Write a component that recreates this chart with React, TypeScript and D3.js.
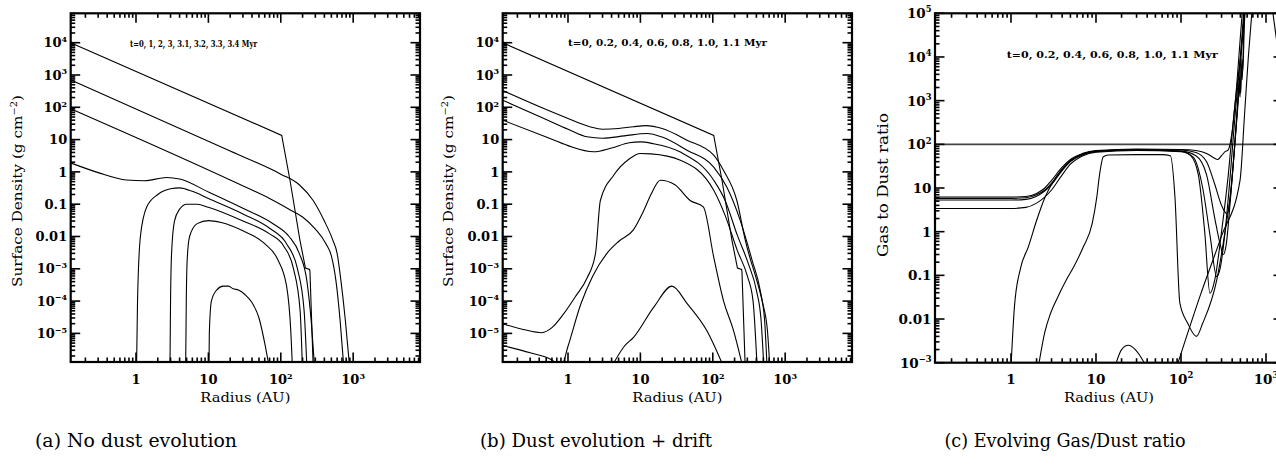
import React from "react";
import * as d3 from "d3";

type Pt = [number, number];

// ---------- tick values / labels ----------
const radiusTicks = [1, 10, 100, 1000];
const radiusTickLabels = ["1", "10", "10^2", "10^3"];
const sigmaTicks = [1e4, 1e3, 1e2, 10, 1, 0.1, 0.01, 1e-3, 1e-4, 1e-5];
const sigmaTickLabels = ["10^4", "10^3", "10^2", "10", "1", "0.1", "0.01", "10^−3", "10^−4", "10^−5"];
const ratioTicks = [1e5, 1e4, 1e3, 1e2, 10, 1, 0.1, 0.01, 1e-3];
const ratioTickLabels = ["10^5", "10^4", "10^3", "10^2", "10", "1", "0.1", "0.01", "10^−3"];

// ---------- panel (a): no dust evolution, t = 0,1,2,3,3.1,3.2,3.3,3.4 Myr ----------
const aT0: Pt[] = [[0.125, 1e4], [103, 13.5], [134, 0.55], [184, 7.6e-3], [219, 1.05e-3], [250, 0.95e-3], [253, 8e-4], [280, 1e-6]];
const aT1: Pt[] = [[0.125, 700], [20, 4.4], [100, 0.85], [180, 0.4], [280, 0.13], [400, 0.03], [520, 8e-3], [600, 3e-3], [680, 4e-4], [780, 2.5e-5], [883, 1.2e-6]];
const aT2: Pt[] = [[0.125, 90], [20, 0.56], [70, 0.15], [130, 0.07], [200, 0.04], [300, 0.017], [420, 6e-3], [500, 2.5e-3], [580, 4e-4], [660, 2.5e-5], [735, 1.2e-6]];
const aT3: Pt[] = [[0.125, 1.9], [0.3, 0.95], [0.74, 0.56], [1.3, 0.53], [2.65, 0.67], [4, 0.6], [10, 0.24], [30, 0.075], [80, 0.024], [130, 0.01], [180, 3e-3], [230, 4e-4], [265, 2e-5], [290, 1.2e-6]];
const aT31: Pt[] = [[1.02, 1.2e-6], [1.05, 1e-4], [1.15, 1e-2], [1.4, 0.08], [2, 0.2], [3, 0.3], [4, 0.32], [6, 0.25], [10, 0.15], [30, 0.05], [70, 0.018], [120, 6e-3], [170, 1e-3], [210, 5e-5], [228, 1.2e-6]];
const aT32: Pt[] = [[2.95, 1.2e-6], [3.0, 1e-4], [3.1, 3e-3], [3.4, 0.03], [4, 0.07], [5, 0.1], [7, 0.1], [10, 0.08], [30, 0.03], [70, 0.012], [110, 5e-3], [150, 1e-3], [185, 5e-5], [198, 1.2e-6]];
const aT33: Pt[] = [[4.86, 1.2e-6], [4.95, 1e-4], [5.1, 2e-3], [5.5, 0.01], [7, 0.025], [10, 0.031], [15, 0.027], [30, 0.015], [60, 6e-3], [90, 2e-3], [120, 3e-4], [138, 1e-5], [144, 1.2e-6]];
const aT34: Pt[] = [[10.2, 1.2e-6], [10.3, 1e-5], [11, 1e-4], [13, 2.2e-4], [16, 2.9e-4], [19, 2.9e-4], [22, 2.4e-4], [26, 2.2e-4], [32, 1.6e-4], [40, 9e-5], [50, 3e-5], [60, 5e-6], [67.6, 1.2e-6]];

// ---------- panel (b): dust evolution + drift, t = 0,0.2,...,1.1 Myr ----------
const bT02: Pt[] = [[0.125, 330], [0.5, 85], [1, 45], [2, 25], [3, 21], [5, 22], [8, 25], [12, 27], [20, 22], [44, 9.6], [103, 3.3], [141, 1.1], [215, 0.13], [282, 7.5e-3], [330, 2e-3], [389, 6e-4], [481, 1e-4], [569, 1.2e-5], [609, 1.2e-6]];
const bT04: Pt[] = [[0.125, 166], [0.5, 42], [1, 21], [1.83, 12.2], [3, 11], [6, 13], [12.3, 15.5], [20, 12], [44, 4.7], [103, 1.4], [156, 0.34], [240, 0.031], [350, 1.8e-3], [455, 2e-4], [520, 2.5e-5], [559, 1.2e-6]];
const bT06: Pt[] = [[0.125, 40], [0.5, 12], [1, 6.5], [2.26, 4.2], [4, 5.5], [7, 8], [10, 8.5], [15, 7.5], [35.7, 4.1], [103, 0.55], [148, 0.13], [218, 0.011], [315, 1.3e-3], [400, 2.2e-4], [465, 2.5e-5], [504, 1.2e-6]];
const bT08: Pt[] = [[0.125, 2e-5], [0.25, 1.3e-5], [0.435, 1.05e-5], [0.6, 1.5e-5], [0.87, 4e-5], [1.3, 1.5e-4], [1.82, 5e-4], [2.4, 3e-3], [2.8, 0.13], [4.3, 0.8], [7, 2.5], [10, 3.7], [14, 3.6], [35.7, 2.3], [103, 0.27], [148, 0.045], [218, 3.7e-3], [300, 6e-4], [360, 1e-4], [407, 1.2e-6]];
const bT10: Pt[] = [[0.125, 4.2e-6], [0.3, 2.5e-6], [0.6, 1.5e-6], [0.8, 9e-7], [1.0, 4e-6], [1.5, 8e-5], [2.2, 6e-4], [3.45, 3e-3], [5, 7e-3], [8, 0.016], [11, 0.06], [14, 0.2], [18.9, 0.55], [30, 0.4], [48.6, 0.13], [74, 0.082], [103, 2.3e-3], [141, 1e-4], [194, 1.2e-5], [252, 1.2e-6]];
const bT11: Pt[] = [[4.27, 1.2e-6], [6, 4e-6], [8.1, 7.7e-6], [15.3, 6.5e-5], [27.3, 2.9e-4], [44, 8.5e-5], [83, 1.2e-5], [134, 1.2e-6]];

// ---------- panel (c): gas to dust ratio ----------
const cT0: Pt[] = [[0.125, 100], [2000, 100]];
const cT02: Pt[] = [[0.125, 6.2], [1, 6.2], [1.5, 6.4], [2, 7.5], [2.5, 10], [3, 15], [4, 30], [5, 45], [7, 62], [10, 72], [30, 78], [100, 76], [150, 72], [200, 62], [240, 50], [270, 45], [300, 55], [330, 68], [360, 75], [400, 200], [450, 2000], [500, 3e4], [540, 2e5]];
const cT04: Pt[] = [[0.125, 5.8], [1, 5.8], [1.5, 6], [2, 7], [2.5, 9], [3, 13], [4, 27], [5, 42], [7, 60], [10, 70], [30, 76], [100, 74], [150, 65], [200, 40], [250, 12], [300, 4], [345, 2.6], [380, 6], [420, 60], [460, 700], [480, 2500], [495, 1200], [510, 6000], [525, 3000], [545, 3e4], [570, 2e5]];
const cT06: Pt[] = [[0.125, 5.3], [1, 5.3], [1.5, 5.5], [2, 6.5], [3, 12], [4, 25], [5, 40], [7, 58], [10, 68], [30, 74], [100, 70], [150, 55], [200, 20], [250, 2], [290, 0.5], [315, 0.3], [340, 0.5], [380, 5], [430, 100], [470, 900], [490, 3000], [505, 1500], [520, 9000], [535, 5000], [555, 5e4], [590, 2e5]];
const cT08: Pt[] = [[0.125, 3.4], [1, 3.4], [1.5, 3.6], [2, 4.5], [3, 9], [4, 20], [5, 35], [7, 55], [10, 66], [30, 72], [100, 68], [140, 50], [180, 10], [220, 0.8], [263, 0.093], [290, 0.15], [330, 1], [380, 20], [430, 400], [500, 1e4], [560, 2e5]];
const cT10: Pt[] = [[1.0, 8e-4], [1.1, 0.02], [1.3, 0.15], [1.6, 0.45], [2, 1.8], [2.5, 6], [3, 12], [4, 27], [5, 42], [7, 60], [10, 70], [30, 75], [100, 70], [130, 55], [160, 20], [190, 1], [219, 0.039], [250, 0.08], [300, 1], [360, 20], [420, 500], [500, 1e4], [580, 2e5]];
const cT11: Pt[] = [[2.1, 8e-4], [2.5, 5e-3], [2.9, 0.013], [3.5, 0.03], [4.5, 0.08], [5.5, 0.16], [7.1, 0.45], [9, 1.5], [10.2, 6], [11, 20], [12.2, 52], [14, 57], [30, 58], [60, 58], [75, 55], [85, 6], [97, 0.023], [120, 8e-3], [152, 4e-3], [180, 8e-3], [264, 0.08], [330, 1], [375, 5.4], [430, 100], [480, 2000], [530, 3e4], [570, 2e5]];
const cBump: Pt[] = [[16.7, 8e-4], [20, 2e-3], [24, 2.5e-3], [29, 2e-3], [39.4, 8e-4]];
const cRise: Pt[] = [[89, 8e-4], [167, 0.033], [300, 0.8], [495, 15], [560, 500], [620, 1e4], [700, 2e5]];
const cEdge: Pt[] = [[1150, 2e5], [1350, 2e4]];

type Curve = { pts: Pt[]; linear?: boolean; stroke?: string; width?: number };

type PanelProps = {
  id: string;
  left: number; top: number; width: number; height: number;
  xLog: [number, number]; yLog: [number, number];
  yTicks: number[]; yLabels: string[];
  yTitle: string; yTitleX: number; yTitleY: number; yTitleW: number; titleFs: number;
  note: string; noteX: number; noteY: number; noteW: number; noteSize: number;
  caption: string; captionX: number; captionW: number;
  curves: Curve[];
  fs: number;
};

function Label({ text, x, y, anchor, fs }: { text: string; x: number; y: number; anchor: string; fs: number }) {
  const parts = text.split("^");
  return (
    <text x={x} y={y} textAnchor={anchor} fontFamily="DejaVu Serif" fontWeight="bold" fontSize={fs} fill="#000">
      <tspan>{parts[0]}</tspan>
      {parts[1] !== undefined && (
        <tspan dy={-fs * 0.42} fontSize={fs * 0.62}>{parts[1]}</tspan>
      )}
    </text>
  );
}

function Panel(p: PanelProps) {
  const x = d3.scaleLog().domain([10 ** p.xLog[0], 10 ** p.xLog[1]]).range([p.left, p.left + p.width]);
  const y = d3.scaleLog().domain([10 ** p.yLog[0], 10 ** p.yLog[1]]).range([p.top + p.height, p.top]);
  const bottom = p.top + p.height;
  const right = p.left + p.width;
  const majorLen = 9.5, minorLen = 4.5;

  const ticksFor = (lg: [number, number]) => {
    const out: { v: number; major: boolean }[] = [];
    for (let d = Math.floor(lg[0]); d <= Math.ceil(lg[1]); d++) {
      for (let k = 1; k <= 9; k++) {
        const v = k * 10 ** d;
        const l = Math.log10(v);
        if (l >= lg[0] - 1e-9 && l <= lg[1] + 1e-9) out.push({ v, major: k === 1 });
      }
    }
    return out;
  };
  const xt = ticksFor(p.xLog);
  const yt = ticksFor(p.yLog);
  const clipId = `clip-${p.id}`;
  const titleMain = p.yTitle.split("^")[0];
  const titleSup = p.yTitle.includes("^") ? p.yTitle.split("^")[1].replace(")", "") : null;

  return (
    <g>
      <defs>
        <clipPath id={clipId}>
          <rect x={p.left} y={p.top} width={p.width} height={p.height} />
        </clipPath>
      </defs>
      <g clipPath={`url(#${clipId})`}>
        {p.curves.map((c, i) => {
          const line = d3
            .line<Pt>()
            .x((d) => x(d[0]))
            .y((d) => y(d[1]))
            .curve(c.linear ? d3.curveLinear : d3.curveMonotoneX);
          return (
            <path key={i} d={line(c.pts) || ""} fill="none" stroke={c.stroke || "#000"} strokeWidth={c.width || 1.1} />
          );
        })}
      </g>
      <g stroke="#000" strokeWidth={1.6}>
        {xt.map((t, i) => {
          const px = x(t.v);
          const L = t.major ? majorLen : minorLen;
          return (
            <g key={"x" + i}>
              <line x1={px} x2={px} y1={bottom} y2={bottom - L} />
              <line x1={px} x2={px} y1={p.top} y2={p.top + L} />
            </g>
          );
        })}
        {yt.map((t, i) => {
          const py = y(t.v);
          const L = t.major ? majorLen : minorLen;
          return (
            <g key={"y" + i}>
              <line x1={p.left} x2={p.left + L} y1={py} y2={py} />
              <line x1={right} x2={right - L} y1={py} y2={py} />
            </g>
          );
        })}
      </g>
      <rect x={p.left} y={p.top} width={p.width} height={p.height} fill="none" stroke="#000" strokeWidth={2.2} />
      {radiusTicks.map((v, i) => (
        <Label key={"xl" + i} text={radiusTickLabels[i]} x={x(v)} y={384} anchor="middle" fs={p.fs} />
      ))}
      {p.yTicks.map((v, i) => (
        <Label key={"yl" + i} text={p.yLabels[i]} x={p.left - 3.5} y={y(v) + p.fs * 0.36} anchor="end" fs={p.fs} />
      ))}
      <text
        x={p.left + p.width / 2 - 45}
        y={402}
        fontFamily="DejaVu Serif"
        fontSize={13}
        textLength={90}
        lengthAdjust="spacingAndGlyphs"
      >
        Radius (AU)
      </text>
      <g transform={`translate(${p.yTitleX},${p.yTitleY}) rotate(-90)`}>
        <text
          x={-p.yTitleW / 2}
          y={0}
          fontFamily="DejaVu Serif"
          fontSize={p.titleFs}
          textLength={p.yTitleW}
          lengthAdjust="spacingAndGlyphs"
        >
          {titleMain}
          {titleSup !== null && (
            <>
              <tspan dy={-5} fontSize={p.titleFs * 0.65}>{titleSup}</tspan>
              <tspan dy={5}>)</tspan>
            </>
          )}
        </text>
      </g>
      <text
        x={p.noteX}
        y={p.noteY}
        fontFamily="DejaVu Serif"
        fontWeight="bold"
        fontSize={p.noteSize}
        textLength={p.noteW}
        lengthAdjust="spacingAndGlyphs"
      >
        {p.note}
      </text>
      <text
        x={p.captionX - p.captionW / 2}
        y={447}
        fontFamily="DejaVu Serif"
        fontSize={18.5}
        textLength={p.captionW}
        lengthAdjust="spacingAndGlyphs"
      >
        {p.caption}
      </text>
    </g>
  );
}

export default function App() {
  const common = { width: 349.3, height: 348.7, top: 13.3, xLog: [-0.902, 3.923] as [number, number], yLog: [-5.886, 4.91] as [number, number] };
  return (
    <svg width={1276} height={467} style={{ position: "absolute", left: 0, top: 0, background: "#fff" }}>
      <rect x={0} y={0} width={1276} height={467} fill="#fff" />
      <Panel
        id="a"
        left={70.7}
        {...common}
        yTicks={sigmaTicks}
        yLabels={sigmaTickLabels}
        yTitle="Surface Density (g cm^−2)"
        yTitleX={22}
        yTitleY={191}
        yTitleW={192}
        titleFs={13}
        note="t=0, 1, 2, 3, 3.1, 3.2, 3.3, 3.4 Myr"
        noteX={130}
        noteY={46.5}
        noteW={127}
        noteSize={9}
        caption="(a) No dust evolution"
        captionX={136}
        captionW={202}
        fs={13}
        curves={[
          { pts: aT0, linear: true },
          { pts: aT1 },
          { pts: aT2 },
          { pts: aT3 },
          { pts: aT31 },
          { pts: aT32 },
          { pts: aT33 },
          { pts: aT34 },
        ]}
      />
      <Panel
        id="b"
        left={502.7}
        {...common}
        yTicks={sigmaTicks}
        yLabels={sigmaTickLabels}
        yTitle="Surface Density (g cm^−2)"
        yTitleX={453}
        yTitleY={191}
        yTitleW={192}
        titleFs={13}
        note="t=0, 0.2, 0.4, 0.6, 0.8, 1.0, 1.1 Myr"
        noteX={568}
        noteY={46}
        noteW={199}
        noteSize={9.5}
        caption="(b) Dust evolution + drift"
        captionX={596}
        captionW={232}
        fs={13}
        curves={[
          { pts: aT0, linear: true },
          { pts: bT02 },
          { pts: bT04 },
          { pts: bT06 },
          { pts: bT08 },
          { pts: bT10 },
          { pts: bT11 },
        ]}
      />
      <Panel
        id="c"
        left={935}
        top={13.3}
        width={348}
        height={349.4}
        xLog={[-0.894, 3.2]}
        yLog={[-3, 5]}
        yTicks={ratioTicks}
        yLabels={ratioTickLabels}
        yTitle="Gas to Dust ratio"
        yTitleX={888}
        yTitleY={185}
        yTitleW={144}
        titleFs={14}
        note="t=0, 0.2, 0.4, 0.6, 0.8, 1.0, 1.1 Myr"
        noteX={1006.7}
        noteY={58}
        noteW={211}
        noteSize={10}
        caption="(c) Evolving Gas/Dust ratio"
        captionX={1065}
        captionW={241}
        fs={13.5}
        curves={[
          { pts: cT0, linear: true, stroke: "#444", width: 1.6 },
          { pts: cT02 },
          { pts: cT04 },
          { pts: cT06 },
          { pts: cT08 },
          { pts: cT10 },
          { pts: cT11 },
          { pts: cBump },
          { pts: cRise },
          { pts: cEdge, linear: true },
        ]}
      />
    </svg>
  );
}
